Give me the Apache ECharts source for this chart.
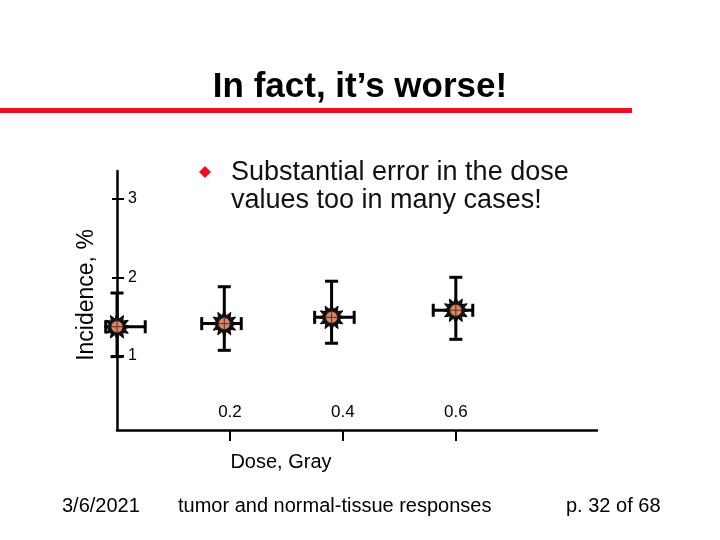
<!DOCTYPE html>
<html>
<head>
<meta charset="utf-8">
<script src="https://cdn.jsdelivr.net/npm/echarts@6/dist/echarts.min.js"></script>
<style>html,body{margin:0;padding:0;background:#fff}#c{width:720px;height:540px}</style>
</head>
<body>
<div id="c"></div>
<script>
// ---- data ----
const doseValues      = [0.00, 0.19, 0.38, 0.60];   // Gy (point centre)
const doseLow         = [-0.02, 0.15, 0.35, 0.56];  // horizontal error bar ends
const doseHigh        = [0.05, 0.22, 0.42, 0.63];
const incidenceValues = [1.37, 1.41, 1.49, 1.58];   // %
const incidenceLow    = [0.99, 1.07, 1.16, 1.21];   // vertical error bar ends
const incidenceHigh   = [1.80, 1.88, 1.95, 2.00];
const xTickValues = [0.2, 0.4, 0.6];
const yTickValues = [1, 2, 3];

const FONT = "'Liberation Sans', Arial, sans-serif";
const rows = doseValues.map((d, i) => [d, incidenceValues[i], doseLow[i], doseHigh[i], incidenceLow[i], incidenceHigh[i]]);

function renderItem(params, api) {
  const c  = api.coord([api.value(0), api.value(1)]);
  const xl = api.coord([api.value(2), api.value(1)]);
  const xh = api.coord([api.value(3), api.value(1)]);
  const yl = api.coord([api.value(0), api.value(4)]);
  const yh = api.coord([api.value(0), api.value(5)]);
  const cap = 6.5;
  const ls = {stroke: '#000', lineWidth: 3};
  const line = (x1, y1, x2, y2) => ({type: 'line', shape: {x1, y1, x2, y2}, style: ls});
  const pts = [];
  const n = 12, ro = 13, ri = 8;
  for (let k = 0; k < 2 * n; k++) {
    const r = k % 2 ? ri : ro;
    const a = k * Math.PI / n - Math.PI / 2;
    pts.push([c[0] + r * Math.cos(a), c[1] + r * Math.sin(a)]);
  }
  return {
    type: 'group',
    children: [
      line(xl[0], c[1], xh[0], c[1]),
      line(xl[0], c[1] - cap, xl[0], c[1] + cap),
      line(xh[0], c[1] - cap, xh[0], c[1] + cap),
      line(c[0], yl[1], c[0], yh[1]),
      line(c[0] - cap, yl[1], c[0] + cap, yl[1]),
      line(c[0] - cap, yh[1], c[0] + cap, yh[1]),
      {type: 'polygon', shape: {points: pts}, style: {fill: '#111', stroke: '#000', lineWidth: 1}},
      {type: 'circle', shape: {cx: c[0], cy: c[1], r: 6}, style: {fill: '#d08a70', stroke: '#3a1a10', lineWidth: 1}},
      {type: 'line', shape: {x1: c[0] - 5.5, y1: c[1], x2: c[0] + 5.5, y2: c[1]}, style: {stroke: '#6a2a1a', lineWidth: 1}},
      {type: 'line', shape: {x1: c[0], y1: c[1] - 5.5, x2: c[0], y2: c[1] + 5.5}, style: {stroke: '#6a2a1a', lineWidth: 1}}
    ]
  };
}

const chart = echarts.init(document.getElementById('c'), null, {renderer: 'canvas'});
chart.setOption({
  animation: false,
  backgroundColor: '#ffffff',
  title: {
    text: 'In fact, it’s worse!',
    left: 'center',
    top: 65,
    textStyle: {fontFamily: FONT, fontWeight: 'bold', fontSize: 35, color: '#000'}
  },
  grid: {left: 117, right: 123, top: 171, bottom: 110, outerBoundsMode: 'none', containLabel: false},
  xAxis: {
    type: 'value', min: 0, max: 0.85,
    name: 'Dose, Gray', nameLocation: 'middle', nameGap: 22,
    nameTextStyle: {fontFamily: FONT, fontSize: 20, color: '#000', padding: [0, 152, 0, 0]},
    axisLine: {show: true, onZero: false, lineStyle: {color: '#000', width: 2.5}},
    axisTick: {show: true, inside: false, length: 11, lineStyle: {color: '#000', width: 2}, customValues: xTickValues},
    axisLabel: {show: true, inside: true, margin: 9, fontFamily: FONT, fontSize: 17, color: '#000', customValues: xTickValues,
      formatter: v => v.toFixed(1)},
    splitLine: {show: false}
  },
  yAxis: [{
    type: 'value', min: 0.055, max: 3.354, position: 'left',
    name: 'Incidence, %', nameLocation: 'middle', nameRotate: 90, nameGap: 19,
    nameTextStyle: {fontFamily: FONT, fontSize: 23, color: '#000', padding: [0, 0, 0, 11]},
    axisLine: {show: true, onZero: false, lineStyle: {color: '#000', width: 2.5}},
    axisTick: {show: true, inside: false, length: 5, lineStyle: {color: '#000', width: 2}, customValues: yTickValues},
    axisLabel: {show: true, inside: true, margin: 11, fontFamily: FONT, fontSize: 16, color: '#000', customValues: yTickValues},
    splitLine: {show: false}
  }, {
    type: 'value', min: 0.055, max: 3.354, position: 'left',
    axisLine: {show: false},
    axisTick: {show: true, inside: true, length: 7, lineStyle: {color: '#000', width: 2}, customValues: yTickValues},
    axisLabel: {show: false},
    splitLine: {show: false}
  }],
  series: [{
    type: 'custom',
    name: 'Incidence',
    clip: false,
    xAxisIndex: 0, yAxisIndex: 0,
    data: rows,
    encode: {x: [0, 2, 3], y: [1, 4, 5]},
    renderItem: renderItem,
    z: 5
  }],
  graphic: [
    {type: 'line', shape: {x1: 0, y1: 110.5, x2: 632, y2: 110.5}, style: {stroke: '#e8141c', lineWidth: 5}},
    {type: 'polygon', shape: {points: [[205, 166], [211, 172], [205, 178], [199, 172]]}, style: {fill: '#e4121c'}},
    {type: 'text', left: 231, top: 159, style: {text: 'Substantial error in the dose\nvalues too in many cases!', font: '27px ' + FONT, lineHeight: 28, fill: '#111'}},
    {type: 'text', x: 62, y: 506, style: {text: '3/6/2021', font: '20px ' + FONT, fill: '#000', textVerticalAlign: 'middle'}},
    {type: 'text', x: 178, y: 506, style: {text: 'tumor and normal-tissue responses', font: '20px ' + FONT, fill: '#000', textVerticalAlign: 'middle'}},
    {type: 'text', x: 566, y: 506, style: {text: 'p. 32 of 68', font: '20px ' + FONT, fill: '#000', textVerticalAlign: 'middle'}}
  ]
});
</script>
</body>
</html>
